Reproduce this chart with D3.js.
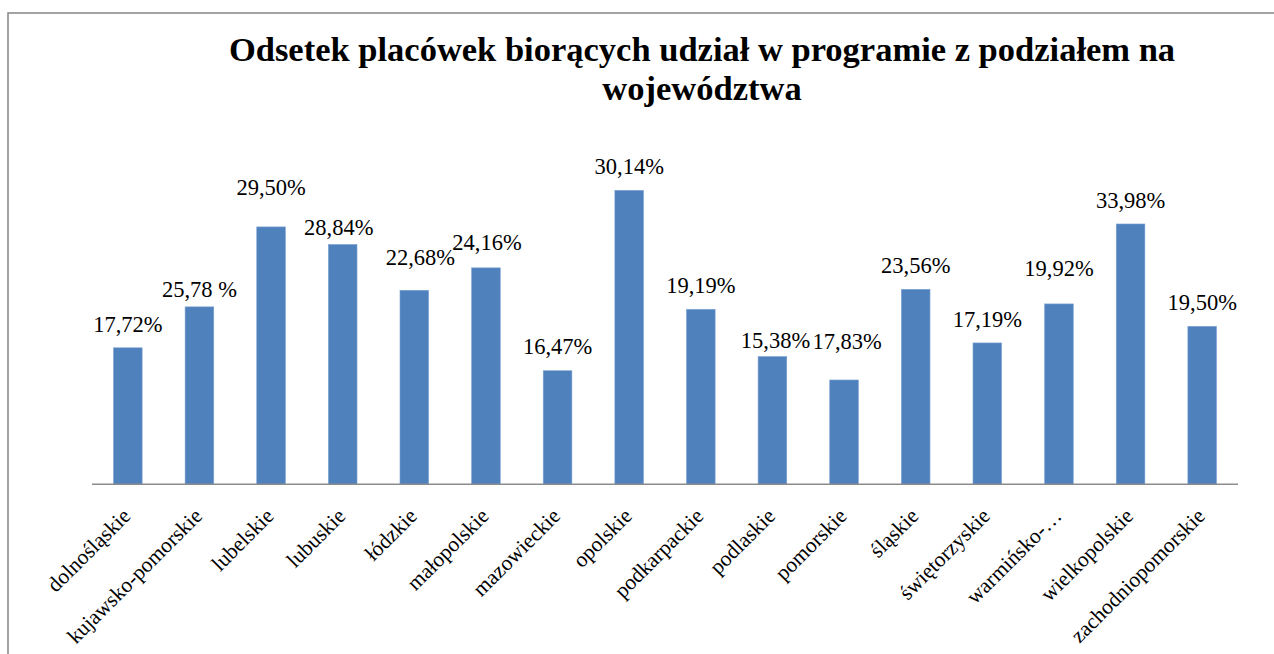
<!DOCTYPE html>
<html>
<head>
<meta charset="utf-8">
<script src="https://cdn.jsdelivr.net/npm/d3@7"></script>
<style>
  html, body { margin: 0; padding: 0; background: #fff; }
  svg { display: block; }
</style>
</head>
<body>
<svg id="chart" width="1274" height="654"></svg>
<script>
// ---- data ----
const titleLines = ["Odsetek placówek biorących udział w programie z podziałem na", "województwa"];
const categories = ["dolnośląskie", "kujawsko-pomorskie", "lubelskie", "lubuskie", "łódzkie", "małopolskie",
  "mazowieckie", "opolskie", "podkarpackie", "podlaskie", "pomorskie", "śląskie", "świętorzyskie",
  "warmińsko-…", "wielkopolskie", "zachodniopomorskie"];
// bar heights (percent)
const values = [14.0, 18.2, 26.4, 24.6, 19.9, 22.2, 11.65, 30.15, 17.95, 13.1, 10.7, 20.0, 14.5, 18.5, 26.7, 16.2];
// data labels as printed on the chart
const labels = ["17,72%", "25,78 %", "29,50%", "28,84%", "22,68%", "24,16%", "16,47%", "30,14%", "19,19%",
  "15,38%", "17,83%", "23,56%", "17,19%", "19,92%", "33,98%", "19,50%"];

// ---- layout ----
const FONT = "'Liberation Serif', 'Times New Roman', serif";
const svg = d3.select("#chart");
const margin = { left: 92, right: 1238, base: 484.3 };
const x = d3.scaleBand().domain(categories).range([margin.left, margin.right]).paddingInner(0.6).paddingOuter(0.3);
const y = d3.scaleLinear().domain([0, 35]).range([margin.base, margin.base - 35 * 9.75]);

// manual nudges of data labels (pixels), as placed in the original
const labelDx = [0, 0, 0, -4, 6, 1, 0, 0, 0, 3, 3, 0, 0, 0, 0, 0];
const labelDy = [0, 6.6, -16, 7, -9.7, -2, -0.7, 0, 0, 7.4, -15.3, 0, 0, -12.3, 0, 0];

// frame
svg.append("rect").attr("x", 8).attr("y", 13).attr("width", 1300).attr("height", 700)
  .attr("fill", "none").attr("stroke", "#8c8c8c").attr("stroke-width", 1.6);

// title (fitted to the original line width)
const title = svg.append("text").attr("text-anchor", "middle")
  .attr("font-family", FONT).attr("font-weight", "bold")
  .attr("font-size", 32).attr("fill", "#000");
const spans = titleLines.map((t, i) =>
  title.append("tspan").attr("x", 702).attr("y", 61 + i * 39).text(t));
const w0 = spans[0].node().getComputedTextLength();
if (w0 > 0) title.attr("font-size", Math.min(34.5, 32 * 975 / w0));

// bars
svg.append("g").selectAll("rect").data(values).join("rect")
  .attr("x", (d, i) => x(categories[i]))
  .attr("width", x.bandwidth())
  .attr("y", d => y(d))
  .attr("height", d => y(0) - y(d))
  .attr("fill", "#4F81BD")
  .attr("stroke", "#7da3d4").attr("stroke-width", 0.6);

// axis
const axis = d3.axisBottom(x).tickSize(0).tickFormat("");
const gx = svg.append("g").attr("transform", `translate(0,${margin.base})`).call(axis);
gx.select(".domain").attr("stroke", "#8c8c8c").attr("stroke-width", 1.6)
  .attr("d", `M${margin.left},0H${margin.right}`);

// category labels
svg.append("g").selectAll("text").data(categories).join("text")
  .attr("transform", d => `translate(${x(d) + x.bandwidth() / 2 + 4},${margin.base + 33}) rotate(-45)`)
  .attr("text-anchor", "end")
  .attr("font-family", FONT)
  .attr("font-size", 21.5).attr("fill", "#000")
  .text(d => d);

// data labels
svg.append("g").selectAll("text").data(values).join("text")
  .attr("x", (d, i) => x(categories[i]) + x.bandwidth() / 2 + labelDx[i])
  .attr("y", (d, i) => y(d) - 16 + labelDy[i])
  .attr("text-anchor", "middle")
  .attr("font-family", FONT)
  .attr("font-size", 22.5).attr("fill", "#000")
  .text((d, i) => labels[i]);
</script>
</body>
</html>
